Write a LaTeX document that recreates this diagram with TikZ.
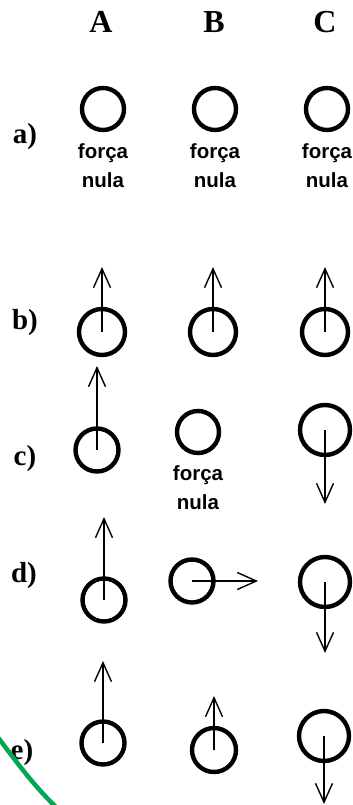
\documentclass[tikz,border=0pt]{standalone}
\usepackage{fontspec}
\setmainfont{Liberation Serif}
\newfontfamily\pixfont{Liberation Sans}
\usetikzlibrary{arrows.meta}
\definecolor{arcgreen}{RGB}{0,166,81}
\begin{document}
\begin{tikzpicture}[
  x=1pt,y=-1pt,
  ball/.style={circle, draw, line width=4.4pt, inner sep=0pt, minimum size=#1},
  ball/.default=43pt,
  force/.style={line width=1.6pt, -{Straight Barb[length=19pt,width=17pt,line width=1.4pt]}},
  head/.style={font=\bfseries\fontsize{32}{32}\selectfont},
  rowlabel/.style={font=\bfseries\fontsize{29}{29}\selectfont},
  nulltext/.style={align=center, inner sep=0pt, font=\pixfont\bfseries\fontsize{20.5}{29}\selectfont}
]
\useasboundingbox (0,0) rectangle (353,805);

\node[head] (hA) at (101,22) {A};
\node[head] (hB) at (214,22) {B};
\node[head] (hC) at (325,22) {C};

\node[rowlabel] (la) at (25,137) {a)};
\node[rowlabel] (lb) at (25,323) {b)};
\node[rowlabel] (lc) at (25,459) {c)};
\node[rowlabel] (ld) at (24,576) {d)};
\node[rowlabel] (le) at (22,753) {e)};

% a)
\node[ball=42pt] (aA) at (103,109) {};
\node[ball=42pt] (aB) at (215,109) {};
\node[ball=42pt] (aC) at (327,109) {};
\node[nulltext] (nA) at (103,166) {força\\nula};
\node[nulltext] (nB) at (215,166) {força\\nula};
\node[nulltext] (nC) at (327,166) {força\\nula};

% b)
\node[ball=46pt] (bA) at (102,332) {};
\node[ball=46pt] (bB) at (213,332) {};
\node[ball=46pt] (bC) at (325,332) {};
\coordinate (tbA) at (102,267);
\coordinate (tbB) at (213,267);
\coordinate (tbC) at (325,267);
\draw[force] (bA.center) -- (tbA);
\draw[force] (bB.center) -- (tbB);
\draw[force] (bC.center) -- (tbC);

% c)
\node[ball=43pt] (cA) at (97,450) {};
\node[ball=42pt] (cB) at (198,432) {};
\node[ball=50pt] (cC) at (325,430) {};
\node[nulltext] (nD) at (198,488) {força\\nula};
\coordinate (tcA) at (97,366);
\coordinate (tcC) at (325,504);
\draw[force] (cA.center) -- (tcA);
\draw[force] (cC.center) -- (tcC);

% d)
\node[ball=43pt] (dA) at (104,600) {};
\node[ball=43pt] (dB) at (192,581) {};
\node[ball=50pt] (dC) at (325,582) {};
\coordinate (tdA) at (104,517);
\coordinate (tdB) at (258,581);
\coordinate (tdC) at (325,653);
\draw[force] (dA.center) -- (tdA);
\draw[force] (dB.center) -- (tdB);
\draw[force] (dC.center) -- (tdC);

% e)
\node[ball=43pt] (eA) at (103,743) {};
\node[ball=44pt] (eB) at (214,750) {};
\node[ball=50pt] (eC) at (324,736) {};
\coordinate (teA) at (103,661);
\coordinate (teB) at (214,696);
\coordinate (teC) at (324,804);
\draw[force] (eA.center) -- (teA);
\draw[force] (eB.center) -- (teB);
\draw[force] (eC.center) -- (teC);

\draw[arcgreen, line width=4.5pt] (-3,736) .. controls (15,760) and (33,785) .. (57,808);
\end{tikzpicture}
\end{document}
